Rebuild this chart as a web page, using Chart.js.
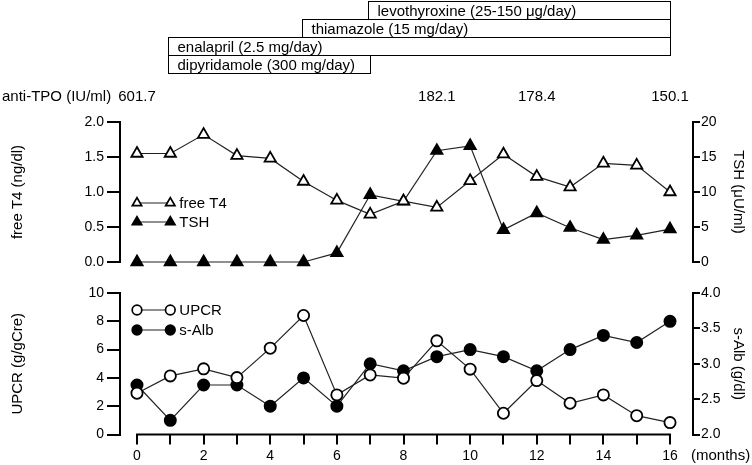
<!DOCTYPE html>
<html>
<head>
<meta charset="utf-8">
<script src="https://cdn.jsdelivr.net/npm/chart.js@4"></script>
<style>
  body { margin: 0; background: #fff; }
  #wrap { position: relative; width: 752px; height: 465px; }
  canvas { position: absolute; left: 0; }
</style>
</head>
<body>
<div id="wrap">
  <canvas id="topChart" width="752" height="275" style="top:0"></canvas>
  <canvas id="bottomChart" width="752" height="190" style="top:275px"></canvas>
</div>
<script>
const months = [0, 1, 2, 3, 4, 5, 6, 7, 8, 9, 10, 11, 12, 13, 14, 15, 16];
const freeT4 = [1.55, 1.55, 1.82, 1.52, 1.48, 1.15, 0.88, 0.68, 0.87, 0.78, 1.16, 1.54, 1.22, 1.07, 1.41, 1.38, 1.00];
const tsh = [0, 0, 0, 0, 0, 0, 1.3, 9.6, 8.65, 15.9, 16.6, 4.6, 7.0, 4.9, 3.2, 3.8, 4.7];
const upcr = [2.92, 4.14, 4.64, 4.02, 6.1, 8.41, 2.8, 4.21, 3.98, 6.62, 4.62, 1.5, 3.81, 2.21, 2.8, 1.33, 0.84];
const sAlb = [2.7, 2.2, 2.7, 2.7, 2.4, 2.8, 2.4, 3.0, 2.9, 3.1, 3.2, 3.1, 2.9, 3.2, 3.4, 3.3, 3.6];

const drugNames = ['levothyroxine (25-150 μg/day)', 'thiamazole (15 mg/day)', 'enalapril (2.5 mg/day)', 'dipyridamole (300 mg/day)'];
const drugStart = [7, 5, 1, 1];
const drugEnd = [16, 16, 16, 7];

const tpoMonths = [0, 9, 12, 16];
const tpoValues = ['601.7', '182.1', '178.4', '150.1'];

const FONT = "'Liberation Sans', Arial, sans-serif";
Chart.defaults.font.family = FONT;
Chart.defaults.color = '#000';

const xMin = -0.51, xMax = 16.69;

function pts(arr) {
  return months.map((m, i) => ({ x: m, y: arr[i] }));
}

function marker(ctx, style, r, x, y, fill) {
  ctx.beginPath();
  if (style === 'triangle') {
    ctx.moveTo(x, y - r);
    ctx.lineTo(x + Math.sin(2 * Math.PI / 3) * r, y + r / 2);
    ctx.lineTo(x - Math.sin(2 * Math.PI / 3) * r, y + r / 2);
    ctx.closePath();
  } else {
    ctx.arc(x, y, r, 0, Math.PI * 2);
  }
  ctx.fillStyle = fill;
  ctx.fill();
  ctx.lineWidth = 1.7;
  ctx.strokeStyle = '#000';
  ctx.stroke();
}

// legend: line with a marker at each end, then the name
const legendPlugin = {
  id: 'lineLegend',
  afterDraw(chart, args, opts) {
    const ctx = chart.ctx;
    const xs = chart.scales.x;
    const xa = xs.getPixelForValue(0), xb = xs.getPixelForValue(1);
    ctx.save();
    chart.data.datasets.forEach((ds, i) => {
      const y = opts.rows[i];
      ctx.beginPath();
      ctx.moveTo(xa, y);
      ctx.lineTo(xb, y);
      ctx.lineWidth = 1.2;
      ctx.strokeStyle = '#222';
      ctx.stroke();
      const r = ds.pointStyle === 'triangle' ? 5.4 : 4.8;
      marker(ctx, ds.pointStyle, r, xa, y, ds.pointBackgroundColor);
      marker(ctx, ds.pointStyle, r, xb, y, ds.pointBackgroundColor);
      ctx.fillStyle = '#000';
      ctx.font = '15px ' + FONT;
      ctx.textAlign = 'left';
      ctx.textBaseline = 'middle';
      ctx.fillText(ds.label, xb + 9, y + 1);
    });
    ctx.restore();
  }
};

// medication boxes and anti-TPO values above the upper panel
const headerPlugin = {
  id: 'header',
  afterDraw(chart, args, opts) {
    const ctx = chart.ctx;
    const xs = chart.scales.x;
    ctx.save();
    ctx.font = '15px ' + FONT;
    ctx.textBaseline = 'middle';
    drugNames.forEach((name, i) => {
      const x0 = Math.round(xs.getPixelForValue(drugStart[i])) - 1.5;
      const x1 = Math.round(xs.getPixelForValue(drugEnd[i])) + 0.5;
      const y0 = opts.boxTop + i * opts.boxH + 0.5;
      ctx.lineWidth = 1;
      ctx.strokeStyle = '#000';
      ctx.strokeRect(x0, y0, x1 - x0, opts.boxH);
      ctx.fillStyle = '#000';
      ctx.textAlign = 'left';
      ctx.fillText(name, x0 + 9, y0 + opts.boxH / 2 + 1);
    });
    ctx.textAlign = 'left';
    ctx.fillText('anti-TPO (IU/ml)', 2, opts.tpoY);
    ctx.textAlign = 'center';
    tpoMonths.forEach((m, i) => {
      ctx.fillText(tpoValues[i], xs.getPixelForValue(m), opts.tpoY);
    });
    ctx.restore();
  }
};

// x axis line running only from the first to the last month, plus unit
const xAxisPlugin = {
  id: 'xAxisLine',
  afterDraw(chart) {
    const ctx = chart.ctx;
    const xs = chart.scales.x;
    const y = chart.chartArea.bottom;
    ctx.save();
    ctx.beginPath();
    ctx.moveTo(xs.getPixelForValue(months[0]) - 1, y);
    ctx.lineTo(xs.getPixelForValue(months[months.length - 1]) + 1, y);
    ctx.lineWidth = 2;
    ctx.strokeStyle = '#000';
    ctx.stroke();
    ctx.font = '15px ' + FONT;
    ctx.fillStyle = '#000';
    ctx.textAlign = 'left';
    ctx.textBaseline = 'middle';
    ctx.fillText('(months)', 691, 181);
    ctx.restore();
  }
};

function leftAxis(min, max, step, title, digits) {
  return {
    position: 'left', min, max,
    ticks: { stepSize: step, font: { size: 14 }, padding: 3, callback: v => v.toFixed(digits) },
    grid: { drawOnChartArea: false, tickLength: 13, lineWidth: 2, color: '#000' },
    border: { display: true, color: '#000', width: 2 },
    title: { display: true, text: title, font: { size: 15 }, padding: { top: 9, bottom: 0 } },
    afterFit(s) { s.width = 120; }
  };
}

function rightAxis(min, max, step, title, digits) {
  return {
    position: 'right', min, max,
    ticks: { stepSize: step, font: { size: 14 }, padding: 1, callback: v => v.toFixed(digits) },
    grid: { drawOnChartArea: false, tickLength: 7, lineWidth: 2, color: '#000' },
    border: { display: true, color: '#000', width: 2 },
    title: { display: true, text: title, font: { size: 15 }, padding: { top: 5, bottom: 0 } },
    afterFit(s) { s.width = 59; }
  };
}

function series(label, arr, style, fill, axis, r) {
  return {
    label, data: pts(arr), yAxisID: axis,
    borderColor: '#222', borderWidth: 1.2,
    pointStyle: style, pointRadius: r, pointBackgroundColor: fill,
    pointBorderColor: '#000', pointBorderWidth: 1.8,
    clip: false, tension: 0
  };
}

new Chart(document.getElementById('topChart'), {
  type: 'line',
  data: {
    datasets: [
      series('free T4', freeT4, 'triangle', '#fff', 'y', 6.5),
      series('TSH', tsh, 'triangle', '#000', 'y2', 6.5)
    ]
  },
  options: {
    responsive: false,
    animation: false,
    layout: { padding: { top: 122, bottom: 13, left: 0, right: 0 } },
    plugins: {
      legend: { display: false },
      tooltip: { enabled: false },
      lineLegend: { rows: [203, 222] },
      header: { boxTop: 1, boxH: 18, tpoY: 97 }
    },
    scales: {
      x: { type: 'linear', min: xMin, max: xMax, display: false },
      y: leftAxis(0, 2, 0.5, 'free T4 (ng/dl)', 1),
      y2: rightAxis(0, 20, 5, 'TSH (μU/ml)', 0)
    }
  },
  plugins: [legendPlugin, headerPlugin]
});

new Chart(document.getElementById('bottomChart'), {
  type: 'line',
  data: {
    datasets: [
      series('UPCR', upcr, 'circle', '#fff', 'y', 5.6),
      series('s-Alb', sAlb, 'circle', '#000', 'y2', 5.6)
    ]
  },
  options: {
    responsive: false,
    animation: false,
    layout: { padding: { top: 18, bottom: 0, left: 0, right: 0 } },
    plugins: {
      legend: { display: false },
      tooltip: { enabled: false },
      lineLegend: { rows: [35, 55] }
    },
    scales: {
      x: {
        type: 'linear', min: xMin, max: xMax, position: 'bottom',
        afterBuildTicks(s) { s.ticks = months.map(v => ({ value: v })); },
        afterFit(s) { s.height = 30.5; },
        ticks: { autoSkip: false, maxRotation: 0, font: { size: 14 }, padding: 3,
                 callback: v => (v % 2 === 0 ? String(v) : '') },
        grid: { drawOnChartArea: false, tickLength: 10, lineWidth: 2, color: '#000' },
        border: { display: false }
      },
      y: leftAxis(0, 10, 2, 'UPCR (g/gCre)', 0),
      y2: rightAxis(2, 4, 0.5, 's-Alb (g/dl)', 1)
    }
  },
  plugins: [legendPlugin, xAxisPlugin]
});
</script>
</body>
</html>
